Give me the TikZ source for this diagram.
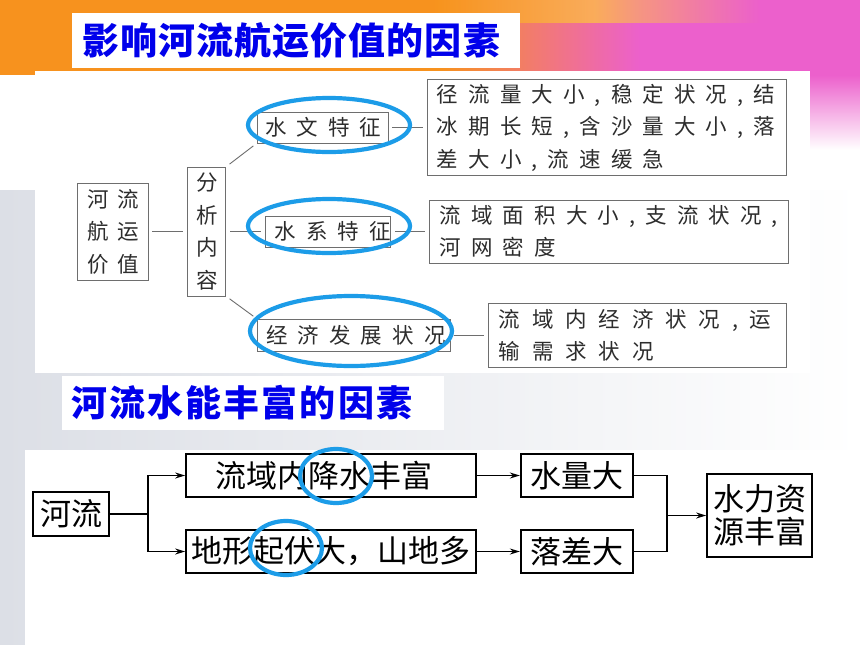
\documentclass[tikz,border=0pt]{standalone}
\usepackage{fontspec}
\usepackage{xcolor}
\usepackage{tikz}
\usetikzlibrary{arrows.meta, positioning}
\newfontfamily\cjk{Noto Sans CJK SC}
\newfontfamily\cjkwide[LetterSpace=47]{Noto Sans CJK SC}
\newfontfamily\cjkpair[LetterSpace=40]{Noto Sans CJK SC}
\newfontfamily\cjkwider[LetterSpace=55]{Noto Sans CJK SC}
\definecolor{halocolor}{RGB}{28,156,232}
\definecolor{titleblue}{RGB}{0,0,235}
\definecolor{slideorange}{RGB}{247,146,30}
\definecolor{slidepink}{RGB}{236,96,204}
\definecolor{slideyellow}{RGB}{255,200,60}
\definecolor{slidegray}{RGB}{220,223,230}
\definecolor{framegray}{RGB}{110,110,110}
\definecolor{inkgray}{RGB}{45,45,45}

\begin{document}
\begin{tikzpicture}[
    x=1pt, y=-1pt,
    cell/.style={
      draw=framegray, line width=0.9pt,
      text=inkgray, align=left,
      inner ysep=0pt,
      font=\cjkwide\fontsize{21.5}{32.5}\selectfont
    },
    blk/.style={
      draw, line width=1.7pt,
      align=center, inner sep=0pt,
      font=\cjk\fontsize{31}{33}\selectfont
    },
    titlebox/.style={fill=white, text=titleblue, align=left, inner ysep=0pt},
    wire/.style={draw=framegray, line width=0.9pt, shorten <=4pt, shorten >=4pt},
    arrow/.style={-{Stealth[length=10pt, width=6pt]}, line width=1.3pt},
    halo/.style={draw=halocolor, line width=4.2pt}
]
\useasboundingbox (0,0) rectangle (860,645);

% --- Slide background ---
\fill[white] (0,0) rectangle (860,645);
\shade[left color=slidegray, right color=white] (0,190) rectangle (860,645);
\fill[slideorange] (0,0) rectangle (440,75);
\shade[left color=slideorange, right color=slidepink] (440,0) rectangle (640,75);
\fill[slidepink] (640,0) rectangle (860,75);
\shade[top color=slidepink, bottom color=white] (640,75) rectangle (860,150);
\shade[left color=slideorange, right color=slidepink, middle color=slideyellow, opacity=0.7]
  (430,0) rectangle (760,22);
\fill[white] (35,71) rectangle (810,373);
\fill[white] (25,450) rectangle (860,645);

% --- Titles ---
\node[titlebox, text width=428pt, inner xsep=10pt, minimum height=55pt,
      font=\cjk\bfseries\addfontfeature{LetterSpace=3}\fontsize{37}{40}\selectfont]
  (navtitle) at (296,40.5) {影响河流航运价值的因素};
\node[titlebox, text width=364pt, inner xsep=9pt, minimum height=54pt,
      font=\cjk\bfseries\addfontfeature{LetterSpace=6}\fontsize{36}{40}\selectfont]
  (hydtitle) at (253,403) {河流水能丰富的因素};

% --- Navigation value tree ---
\node[cell, font=\cjkpair\fontsize{21.5}{32.5}\selectfont,
      text width=51pt, inner xsep=10pt, minimum height=97pt]
  (navvalue) at (112.5,231.5) {河流\\航运\\价值};
\node[cell, text width=20pt, inner xsep=9pt, minimum height=129pt,
      right=39pt of navvalue] (analysis) {分\\析\\内\\容};
\node[cell, text width=115pt, inner xsep=8pt, minimum height=31pt]
  (hydrology) at (322.5,127.5) {水文特征};
\node[cell, text width=107pt, inner xsep=9pt, minimum height=31pt,
      right=39pt of analysis] (drainage) {水系特征};
\node[cell, text width=175pt, inner xsep=9pt, minimum height=32pt]
  (economy) at (353.5,335) {经济发展状况};

\node[cell, text width=341pt, inner xsep=9pt, minimum height=96pt,
      right=39pt of hydrology] (hydronote)
  {径流量大小,稳定状况,结\\冰期长短,含沙量大小,落\\差大小,流速缓急};
\node[cell, text width=339pt, inner xsep=10pt, minimum height=63pt,
      right=38pt of drainage] (drainnote)
  {流域面积大小,支流状况,\\河网密度};
\node[cell, font=\cjkwider\fontsize{21.5}{32}\selectfont,
      text width=278pt, inner xsep=10pt, minimum height=64pt,
      right=38pt of economy] (econnote)
  {流域内经济状况,运\\输需求状况};

\draw[wire] (navvalue) -- (analysis);
\draw[wire] (analysis.north east) -- (hydrology.south west);
\draw[wire] (analysis) -- (drainage);
\draw[wire] (analysis.south east) -- (economy.north west);
\draw[wire] (hydrology) -- (hydronote);
\draw[wire] (drainage) -- (drainnote);
\draw[wire] (economy) -- (econnote);

\draw[halo] (329,125) ellipse [x radius=81pt, y radius=27pt];
\draw[halo] (329,226) ellipse [x radius=81pt, y radius=27pt];
\draw[halo] (351,331) ellipse [x radius=101pt, y radius=35pt];

% --- Hydropower chain ---
\node[blk, minimum width=76pt, minimum height=44pt] (river) at (71,514) {河流};
\node[blk, align=left, text width=232pt, inner xsep=29pt, minimum height=43pt]
  (rainfall) at (331,475.5) {流域内降水丰富};
\node[blk, minimum width=290pt, minimum height=43pt] (relief) at (331,551.5) {地形起伏大，山地多};
\node[blk, minimum width=112pt, minimum height=43pt, right=43pt of rainfall] (volume) {水量大};
\node[blk, minimum width=112pt, minimum height=43pt, right=43pt of relief] (drop) {落差大};
\node[blk, minimum width=105pt, minimum height=83pt] (hydro) at (759.5,515.5) {水力资\\源丰富};
\coordinate (split) at (148,514);
\coordinate (merge) at (667,515.5);

\draw[arrow] (river) -- (split) |- (rainfall);
\draw[arrow] (split) |- (relief);
\draw[arrow] (rainfall) -- (volume);
\draw[arrow] (relief) -- (drop);
\draw[line width=1.3pt] (volume) -| (merge) |- (drop);
\draw[arrow] (merge) -- (hydro);

\draw[halo] (336,476) ellipse [x radius=36pt, y radius=27pt];
\draw[halo] (286,548) ellipse [x radius=36pt, y radius=27pt];

\end{tikzpicture}
\end{document}
